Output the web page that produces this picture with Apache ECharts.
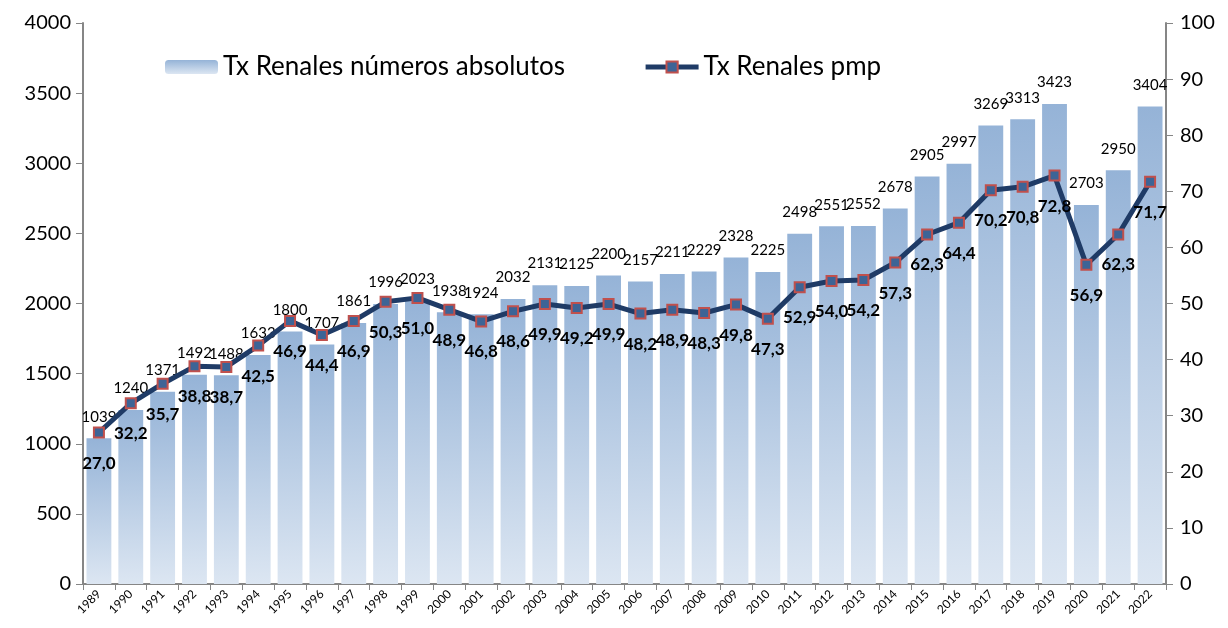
<!DOCTYPE html>
<html>
<head>
<meta charset="utf-8">
<script src="https://cdn.jsdelivr.net/npm/echarts@6/dist/echarts.min.js"></script>
<style>
  html, body { margin: 0; padding: 0; background: #fff; }
  #chart { width: 1228px; height: 628px; }
</style>
</head>
<body>
<div id="chart"></div>
<script>
const years = ["1989","1990","1991","1992","1993","1994","1995","1996","1997","1998","1999","2000","2001","2002","2003","2004","2005","2006","2007","2008","2009","2010","2011","2012","2013","2014","2015","2016","2017","2018","2019","2020","2021","2022"];
const txAbsolutos = [1039,1240,1371,1492,1488,1633,1800,1707,1861,1996,2023,1938,1924,2032,2131,2125,2200,2157,2211,2229,2328,2225,2498,2551,2552,2678,2905,2997,3269,3313,3423,2703,2950,3404];
const txPmp = [27.0,32.2,35.7,38.8,38.7,42.5,46.9,44.4,46.9,50.3,51.0,48.9,46.8,48.6,49.9,49.2,49.9,48.2,48.9,48.3,49.8,47.3,52.9,54.0,54.2,57.3,62.3,64.4,70.2,70.8,72.8,56.9,62.3,71.7];

const fontFam = "Lato, 'Open Sans', sans-serif";
const chart = echarts.init(document.getElementById("chart"));

const barGradient = new echarts.graphic.LinearGradient(0, 0, 0, 1, [
  { offset: 0, color: "#95b3d7" },
  { offset: 1, color: "#dce6f2" }
]);

const option = {
  animation: false,
  textStyle: { fontFamily: fontFam },
  legend: {
    left: 160,
    top: 49,
    itemWidth: 53,
    itemHeight: 14,
    itemGap: 78,
    textStyle: { fontSize: 26, color: "#000", fontFamily: fontFam },
    data: [
      { name: "Tx Renales números absolutos", itemStyle: { color: barGradient } },
      { name: "Tx Renales pmp", lineStyle: { width: 5, color: "#1f3b66" } }
    ]
  },
  grid: { left: 83, right: 62, top: 23, bottom: 44 },
  xAxis: {
    type: "category",
    data: years,
    boundaryGap: true,
    axisLine: { lineStyle: { color: "#868686", width: 2 } },
    axisTick: { show: true, length: 6, lineStyle: { color: "#868686" } },
    axisLabel: { rotate: 45, fontSize: 12, color: "#000", margin: 8, interval: 0 }
  },
  yAxis: [
    {
      type: "value",
      min: 0, max: 4000, interval: 500,
      axisLine: { show: true, lineStyle: { color: "#868686", width: 2 } },
      axisTick: { show: true, length: 7, lineStyle: { color: "#868686" } },
      splitLine: { show: false },
      axisLabel: { fontSize: 20, color: "#000", margin: 12, formatter: v => String(v) }
    },
    {
      type: "value",
      min: 0, max: 100, interval: 10,
      position: "right",
      axisLine: { show: true, lineStyle: { color: "#868686", width: 2 } },
      axisTick: { show: true, length: 7, lineStyle: { color: "#868686" } },
      splitLine: { show: false },
      axisLabel: { fontSize: 20, color: "#000", margin: 14 }
    }
  ],
  series: [
    {
      name: "Tx Renales números absolutos",
      type: "bar",
      data: txAbsolutos,
      barCategoryGap: "22%",
      itemStyle: { color: barGradient },
      label: {
        show: true,
        position: "top",
        distance: 14,
        fontSize: 15,
        color: "#000"
      }
    },
    {
      name: "Tx Renales pmp",
      type: "line",
      yAxisIndex: 1,
      data: txPmp,
      symbol: "rect",
      symbolSize: 10,
      lineStyle: { color: "#1f3b66", width: 5 },
      itemStyle: { color: "#3d6496", borderColor: "#c0504d", borderWidth: 2 },
      label: {
        show: true,
        position: "bottom",
        distance: 16,
        fontSize: 17,
        fontWeight: "bold",
        color: "#000",
        formatter: p => p.value.toFixed(1).replace(".", ",")
      },
      z: 5
    }
  ]
};

chart.setOption(option);
</script>
</body>
</html>
